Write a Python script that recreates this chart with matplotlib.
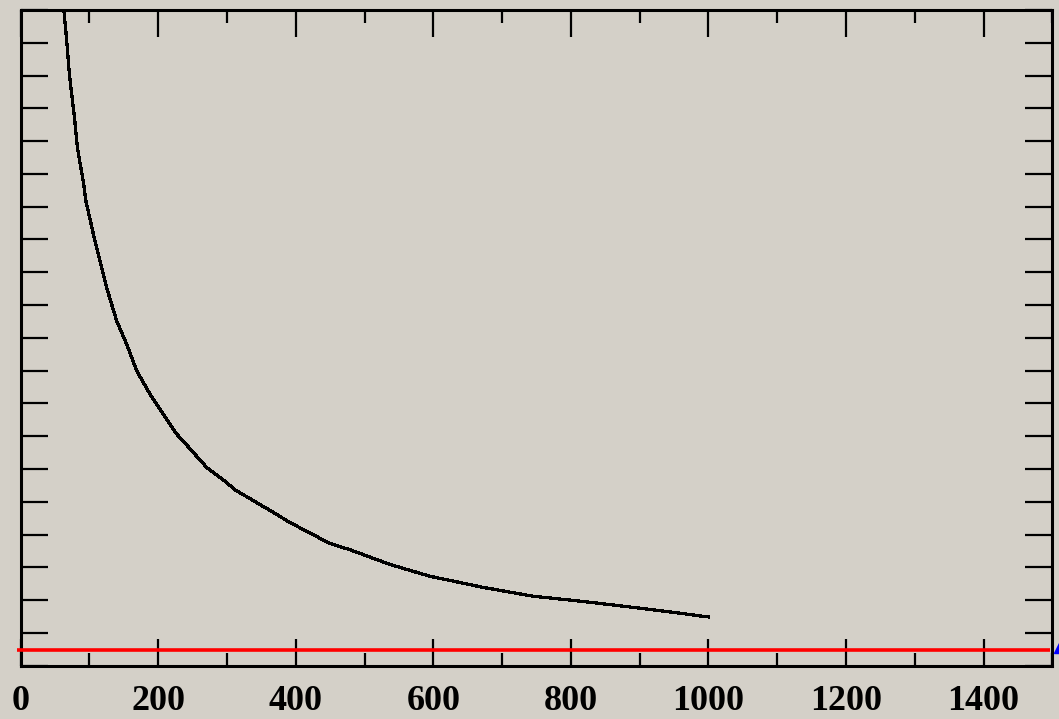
import matplotlib
matplotlib.use("Agg")
import matplotlib.pyplot as plt
from matplotlib.ticker import MultipleLocator

# ---- data ----
curve_x = [63.1, 67.0, 70.8, 74.7, 78.6, 82.4, 86.7, 91.1, 95.0, 108.1, 115.4,
           125.1, 139.6, 154.1, 168.7, 188.0, 207.3, 226.8, 250.9, 270.4, 294.5,
           312.9, 362.3, 391.4, 449.5, 478.5, 536.7, 594.8, 672.2, 744.9, 817.5,
           890.2, 962.8, 994.3, 1000.0]
curve_y = [19.95, 19.07, 18.07, 17.36, 16.66, 15.84, 15.29, 14.78, 14.17, 12.95,
           12.35, 11.53, 10.52, 9.81, 9.00, 8.29, 7.68, 7.07, 6.51, 6.05, 5.67,
           5.35, 4.74, 4.37, 3.73, 3.54, 3.09, 2.73, 2.39, 2.12, 1.96, 1.78, 1.59,
           1.50, 1.49]
red_level = 0.48
red_x = [-5.5, 1497.0]
marker_x = [1514.0]
marker_y = [0.62]
x_ticks = [0, 200, 400, 600, 800, 1000, 1200, 1400]
x_tick_labels = ["0", "200", "400", "600", "800", "1000", "1200", "1400"]

BG = "#D4D0C8"
W, H = 1059, 719
fig = plt.figure(figsize=(W / 100, H / 100), dpi=100, facecolor=BG)
left, right, top, bottom = 20.6, 1052.3, 10.0, 665.7
ax = fig.add_axes([left / W, 1 - bottom / H, (right - left) / W, (bottom - top) / H])
ax.set_facecolor(BG)

ax.plot(curve_x, curve_y, color="black", lw=1.6, antialiased=False, zorder=3)
ax.plot(red_x, [red_level, red_level], color="#FF0000", lw=2.6, clip_on=False,
        solid_capstyle="butt", zorder=4)
ax.plot(marker_x, marker_y, marker="^", color="#0000FF", ms=11, ls="none",
        clip_on=False, zorder=5)

ax.set_xlim(0, 1500)
ax.set_ylim(0, 20)
ax.set_xticks(x_ticks)
ax.set_xticklabels(x_tick_labels)
ax.xaxis.set_minor_locator(MultipleLocator(100))
ax.yaxis.set_major_locator(MultipleLocator(1))

for s in ax.spines.values():
    s.set_linewidth(2.2)
    s.set_color("black")

ax.tick_params(axis="both", which="major", direction="in", length=19.5, width=1.6,
               top=True, right=True, color="black")
ax.tick_params(axis="x", which="minor", direction="in", length=9.5, width=1.6,
               top=True, bottom=True, color="black")
ax.tick_params(axis="y", which="both", labelleft=False)
ax.tick_params(axis="x", which="major", pad=14)
for lab in ax.get_xticklabels():
    lab.set_fontfamily("Liberation Serif")
    lab.set_fontweight("bold")
    lab.set_fontsize(26)
    lab.set_color("black")

fig.savefig("out.png", dpi=100, facecolor=BG)
